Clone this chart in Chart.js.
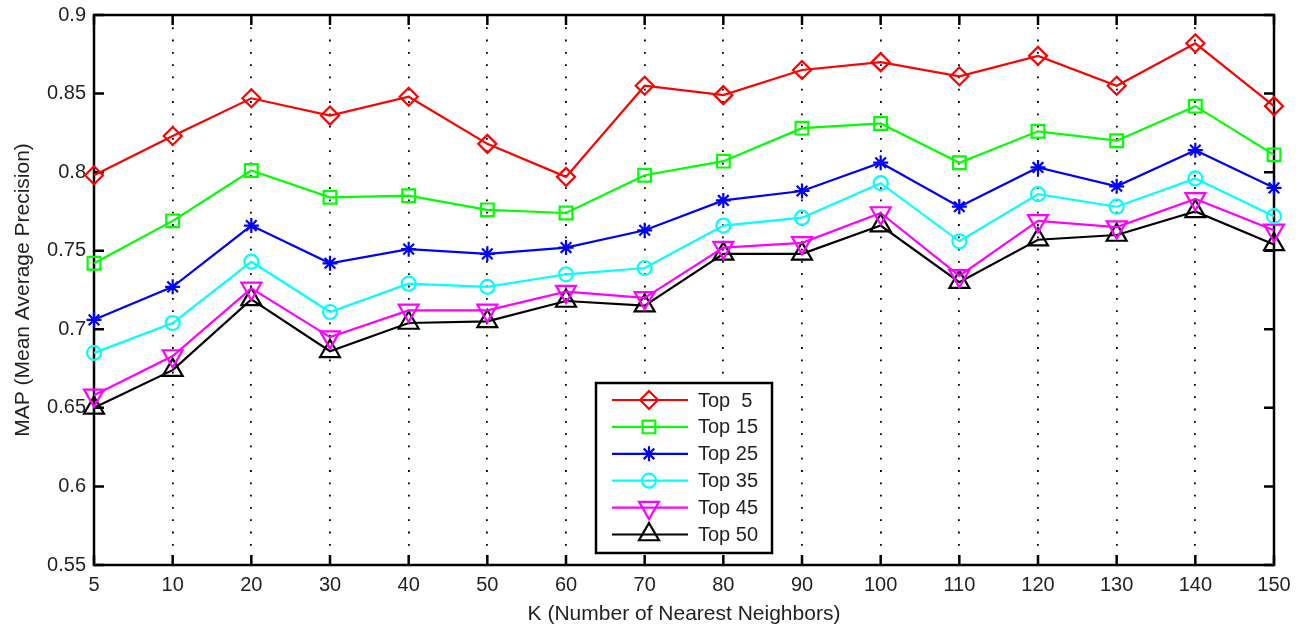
<!DOCTYPE html>
<html>
<head>
<meta charset="utf-8">
<script src="https://cdn.jsdelivr.net/npm/chart.js@4.4.1/dist/chart.umd.min.js"></script>
<style>
  html, body { margin: 0; padding: 0; background: #fff; }
  #wrap { width: 1302px; height: 627px; position: relative; }
</style>
</head>
<body>
<div id="wrap"><canvas id="c" width="1302" height="627"></canvas></div>
<script>
// K values (number of nearest neighbours) along the x axis
const kLabels = ['5', '10', '20', '30', '40', '50', '60', '70', '80', '90', '100', '110', '120', '130', '140', '150'];

// MAP for each retrieval depth
const top5  = [0.798, 0.823, 0.847, 0.836, 0.848, 0.818, 0.797, 0.855, 0.849, 0.865, 0.870, 0.861, 0.874, 0.855, 0.882, 0.842];
const top15 = [0.742, 0.769, 0.801, 0.784, 0.785, 0.776, 0.774, 0.798, 0.807, 0.828, 0.831, 0.806, 0.826, 0.820, 0.842, 0.811];
const top25 = [0.706, 0.727, 0.766, 0.742, 0.751, 0.748, 0.752, 0.763, 0.782, 0.788, 0.806, 0.778, 0.803, 0.791, 0.814, 0.790];
const top35 = [0.685, 0.704, 0.743, 0.711, 0.729, 0.727, 0.735, 0.739, 0.766, 0.771, 0.793, 0.756, 0.786, 0.778, 0.796, 0.772];
const top45 = [0.658, 0.683, 0.726, 0.695, 0.712, 0.712, 0.724, 0.720, 0.752, 0.755, 0.774, 0.734, 0.769, 0.765, 0.783, 0.763];
const top50 = [0.650, 0.674, 0.719, 0.686, 0.704, 0.705, 0.718, 0.715, 0.748, 0.748, 0.766, 0.730, 0.757, 0.760, 0.775, 0.754];

const seriesNames = ['Top  5', 'Top 15', 'Top 25', 'Top 35', 'Top 45', 'Top 50'];

// y axis range and tick spacing
const yMin = 0.55;
const yMax = 0.9;
const yStep = 0.05;

const FONT = '"Liberation Sans", Arial, Helvetica, sans-serif';
const TEXT = '#231f20';

function series(label, data, color, style, radius, rotation) {
  return {
    label, data,
    borderColor: color,
    backgroundColor: color,
    borderWidth: 2.2,
    pointStyle: style,
    pointRadius: radius,
    pointHoverRadius: radius,
    pointRotation: rotation || 0,
    pointBorderColor: color,
    pointBackgroundColor: 'rgba(0,0,0,0)',
    pointBorderWidth: 2.2,
    tension: 0,
    clip: false
  };
}

// Box around the plot with inward tick marks on all four sides
const axesBox = {
  id: 'axesBox',
  beforeDatasetsDraw(chart) {
    const { ctx, chartArea: a, scales: { x, y } } = chart;
    const len = 10;
    ctx.save();
    ctx.strokeStyle = '#000';
    ctx.lineWidth = 2.5;
    ctx.beginPath();
    x.ticks.forEach((t, i) => {
      const px = x.getPixelForTick(i);
      ctx.moveTo(px, a.bottom); ctx.lineTo(px, a.bottom - len);
      ctx.moveTo(px, a.top);    ctx.lineTo(px, a.top + len);
    });
    y.ticks.forEach((t, i) => {
      const py = y.getPixelForTick(i);
      ctx.moveTo(a.left, py);  ctx.lineTo(a.left + len, py);
      ctx.moveTo(a.right, py); ctx.lineTo(a.right - len, py);
    });
    ctx.stroke();
    ctx.strokeRect(a.left, a.top, a.right - a.left, a.bottom - a.top);
    ctx.restore();
  }
};

// Boxed legend sitting inside the plot area
const boxedLegend = {
  id: 'boxedLegend',
  afterDatasetsDraw(chart) {
    const { ctx, chartArea: a } = chart;
    const bx = a.left + 502, by = a.top + 368, bw = 176, bh = 170;
    ctx.save();
    ctx.fillStyle = '#fff';
    ctx.fillRect(bx, by, bw, bh);
    ctx.strokeStyle = '#000';
    ctx.lineWidth = 2.5;
    ctx.strokeRect(bx, by, bw, bh);
    ctx.font = '20px ' + FONT;
    ctx.textBaseline = 'middle';
    ctx.textAlign = 'left';
    chart.data.datasets.forEach((ds, i) => {
      const cy = by + 17 + i * 26.9;
      ctx.strokeStyle = ds.borderColor;
      ctx.lineWidth = 2.2;
      ctx.beginPath();
      ctx.moveTo(bx + 16, cy);
      ctx.lineTo(bx + 92, cy);
      ctx.stroke();
      ctx.fillStyle = 'rgba(0,0,0,0)';
      Chart.helpers.drawPoint(ctx, {
        pointStyle: ds.pointStyle,
        rotation: ds.pointRotation,
        radius: ds.pointRadius,
        borderWidth: 2.2
      }, bx + 53, cy);
      ctx.fillStyle = TEXT;
      ctx.fillText(ds.label, bx + 102, cy + 1);
    });
    ctx.restore();
  }
};

new Chart(document.getElementById('c'), {
  type: 'line',
  data: {
    labels: kLabels,
    datasets: [
      series(seriesNames[0], top5,  '#ff0000', 'rectRot',  9),
      series(seriesNames[1], top15, '#00ff00', 'rect',     9),
      series(seriesNames[2], top25, '#0000ff', 'star',     7.5),
      series(seriesNames[3], top35, '#00ffff', 'circle',   7),
      series(seriesNames[4], top45, '#ff00ff', 'triangle', 11.5, 180),
      series(seriesNames[5], top50, '#000000', 'triangle', 11.5)
    ]
  },
  options: {
    responsive: false,
    animation: false,
    devicePixelRatio: 1,
    layout: { padding: { top: 15, right: 28, left: 0, bottom: 0 } },
    plugins: {
      legend: { display: false },
      tooltip: { enabled: false }
    },
    scales: {
      x: {
        type: 'category',
        offset: false,
        grid: { display: true, color: '#000', lineWidth: 1.8, drawTicks: false },
        border: { display: false, dash: [1.8, 10.5] },
        ticks: { color: TEXT, font: { family: FONT, size: 20 }, padding: 8, maxRotation: 0, autoSkip: false },
        title: {
          display: true,
          text: 'K (Number of Nearest Neighbors)',
          color: TEXT,
          font: { family: FONT, size: 21 },
          padding: { top: 0, bottom: 0 }
        },
        afterFit(scale) {
          scale.height = 62;
          scale.paddingLeft = 0;
          scale.paddingRight = 0;
        }
      },
      y: {
        type: 'linear',
        min: yMin,
        max: yMax,
        grid: { display: false, drawTicks: false },
        border: { display: false },
        ticks: {
          stepSize: yStep,
          color: TEXT,
          font: { family: FONT, size: 20 },
          padding: 8,
          callback: v => String(parseFloat(v.toFixed(2)))
        },
        title: {
          display: true,
          text: 'MAP (Mean Average Precision)',
          color: TEXT,
          font: { family: FONT, size: 21 },
          padding: { top: 11, bottom: 0 }
        },
        afterFit(scale) {
          scale.width = 94;
          scale.paddingTop = 0;
          scale.paddingBottom = 0;
        }
      }
    }
  },
  plugins: [axesBox, boxedLegend]
});
</script>
</body>
</html>
